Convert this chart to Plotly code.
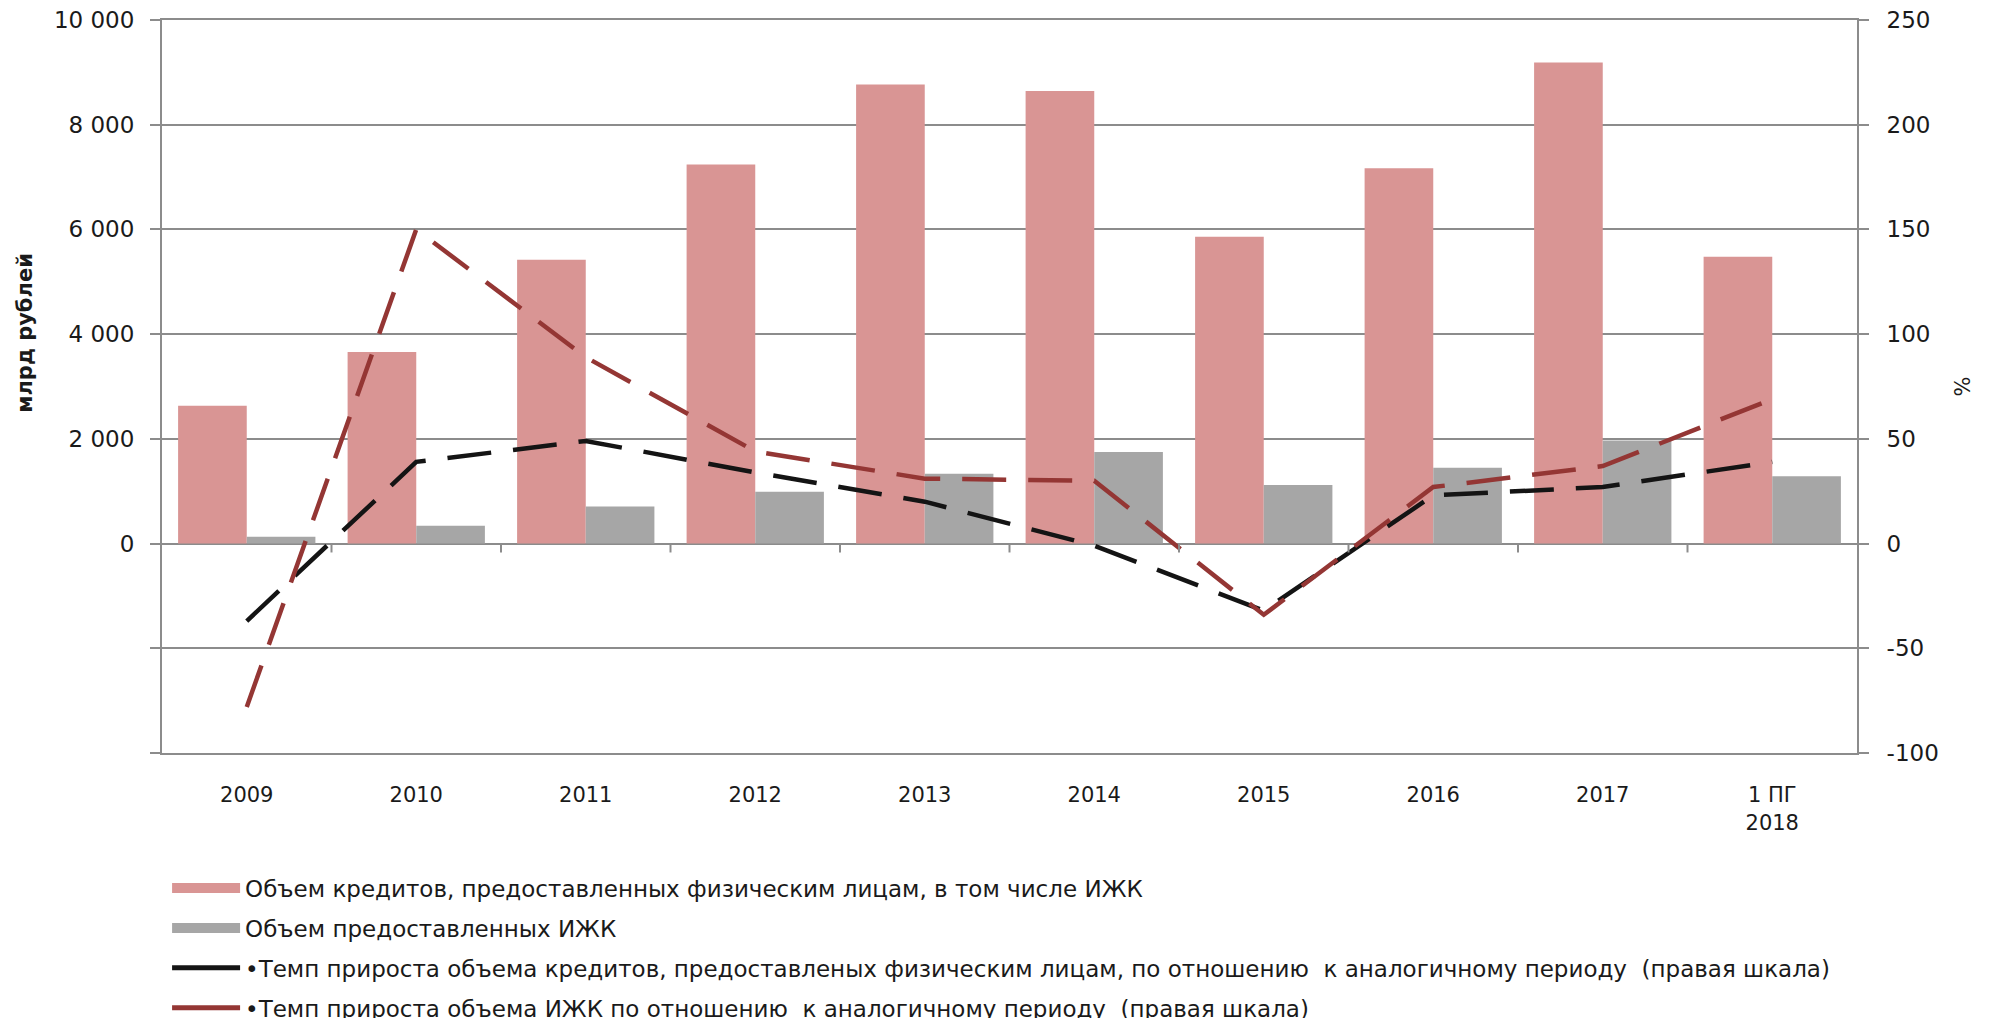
import plotly.graph_objects as go

# categories (x axis)
periods = ["2009", "2010", "2011", "2012", "2013", "2014", "2015", "2016", "2017", "1 ПГ<br>2018"]

# bar series, млрд рублей (left scale)
loans_total = [2630, 3660, 5420, 7240, 8770, 8645, 5860, 7170, 9190, 5480]
loans_izhk = [130, 340, 710, 990, 1335, 1750, 1120, 1450, 1970, 1285]

# growth rates, % (right scale)
growth_total = [-37, 39, 49, 34, 20, -1, -32, 23, 27, 39]
growth_izhk = [-78, 150, 89, 44, 31, 30, -34, 27, 37, 69]

# axis ticks
left_tickvals = [-4000, -2000, 0, 2000, 4000, 6000, 8000, 10000]
left_ticktext = ["", "", "0", "2 000", "4 000", "6 000", "8 000", "10 000"]
right_tickvals = [-100, -50, 0, 50, 100, 150, 200, 250]
right_ticktext = ["-100", "-50", "0", "50", "100", "150", "200", "250"]

names = [
    "Объем кредитов, предоставленных физическим лицам, в том числе ИЖК",
    "Объем предоставленных ИЖК",
    "•Темп прироста объема кредитов, предоставленых физическим лицам, по отношению  к аналогичному периоду  (правая шкала)",
    "•Темп прироста объема ИЖК по отношению  к аналогичному периоду  (правая шкала)",
]
colors = ["#d99594", "#a6a6a6", "#141414", "#943634"]

GRID = "#8c8c8c"
FONT = "DejaVu Sans"

fig = go.Figure()
fig.add_trace(go.Bar(x=periods, y=loans_total, name=names[0], marker_color=colors[0],
                     marker_line_width=0, showlegend=False))
fig.add_trace(go.Bar(x=periods, y=loans_izhk, name=names[1], marker_color=colors[1],
                     marker_line_width=0, showlegend=False))
fig.add_trace(go.Scatter(x=periods, y=growth_total, name=names[2], yaxis="y2", mode="lines",
                         line=dict(color=colors[2], width=4.5, dash="44px,22px"), showlegend=False))
fig.add_trace(go.Scatter(x=periods, y=growth_izhk, name=names[3], yaxis="y2", mode="lines",
                         line=dict(color=colors[3], width=4.5, dash="44px,22px"), showlegend=False))

# legend swatches: wide blocks for bars, solid strokes for the lines
swatch_width = [15, 15, 5, 5]
for k in range(4):
    fig.add_trace(go.Scatter(x=[None], y=[None], name=names[k], mode="lines",
                             line=dict(color=colors[k], width=swatch_width[k]), legendgroup=str(k)))

# small category ticks on the zero line
for i in range(1, len(periods)):
    fig.add_shape(type="line", xref="x", yref="y", x0=i - 0.5, x1=i - 0.5, y0=0, y1=-170,
                  line=dict(color=GRID, width=2))

fig.update_layout(
    width=1990, height=1018,
    margin=dict(l=154, r=141, t=12, b=273, autoexpand=False),
    paper_bgcolor="white", plot_bgcolor="white",
    barmode="group", bargap=0.19, bargroupgap=0,
    font=dict(family=FONT, size=21, color="#1a1a1a"),
    xaxis=dict(type="category", showgrid=False, ticks="", showline=True, mirror=True,
               linecolor=GRID, linewidth=2, ticklabelstandoff=22,
               tickfont=dict(family=FONT, size=21)),
    yaxis=dict(range=[-4000, 10000], tickvals=left_tickvals, ticktext=left_ticktext,
               showgrid=True, gridcolor=GRID, gridwidth=2, zeroline=True, zerolinecolor=GRID,
               zerolinewidth=2, showline=True, linecolor=GRID, linewidth=2,
               ticks="outside", ticklen=10, tickcolor=GRID, tickwidth=2, ticklabelstandoff=11,
               ticklabeloverflow="allow", tickfont=dict(family=FONT, size=23)),
    yaxis2=dict(range=[-100, 250], tickvals=right_tickvals, ticktext=right_ticktext,
                overlaying="y", side="right",
                showgrid=False, zeroline=False, showline=True, linecolor=GRID, linewidth=2,
                ticks="outside", ticklen=10, tickcolor=GRID, tickwidth=2, ticklabelstandoff=13,
                ticklabeloverflow="allow", tickfont=dict(family=FONT, size=23)),
    legend=dict(x=0.003, xanchor="left", y=-0.155, yanchor="top", traceorder="grouped",
                tracegroupgap=7, itemwidth=68, font=dict(family=FONT, size=23, color="#1a1a1a"),
                bgcolor="rgba(0,0,0,0)"),
    showlegend=True,
)

fig.add_annotation(text="<b>млрд рублей</b>", textangle=-90, xref="paper", yref="paper",
                   x=-0.081, xanchor="center", y=0.573, showarrow=False,
                   font=dict(family=FONT, size=21))
fig.add_annotation(text="%", textangle=-90, xref="paper", yref="paper",
                   x=1.0625, xanchor="center", y=0.5, showarrow=False,
                   font=dict(family=FONT, size=21))

fig.write_html("out.html")
